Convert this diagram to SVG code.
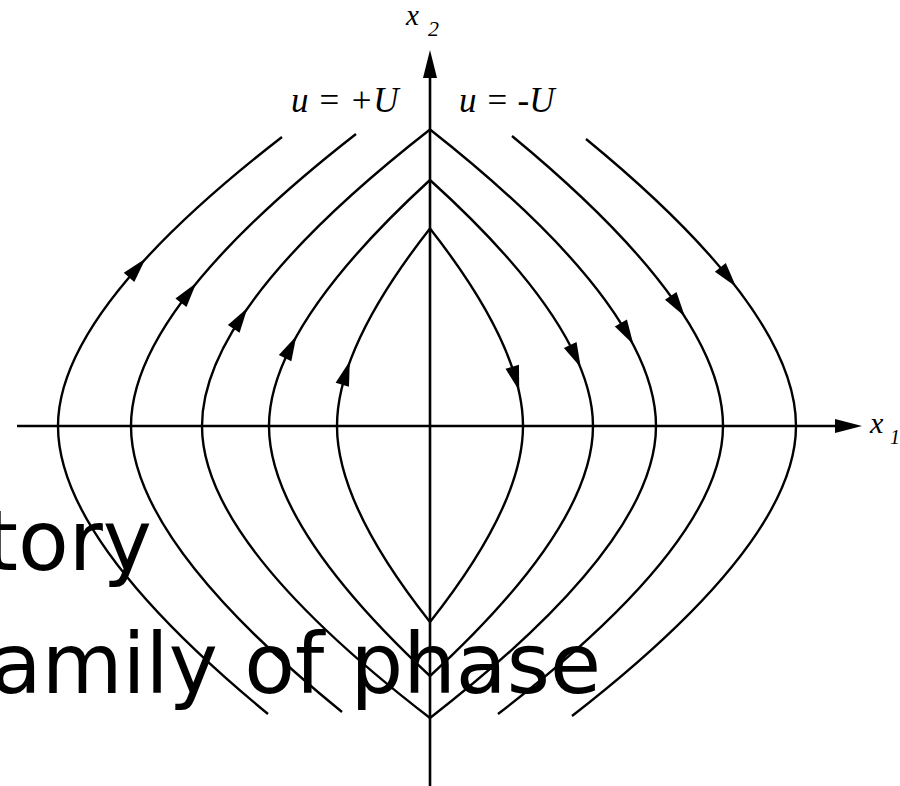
<svg xmlns="http://www.w3.org/2000/svg" xmlns:xlink="http://www.w3.org/1999/xlink" width="900" height="786" viewBox="0 0 900 786">
<style>
.axis{stroke:#000;stroke-width:2.6;fill:none}
.traj{stroke:#000;stroke-width:2.4;fill:none;stroke-linejoin:miter}
.lab{font-family:"Liberation Serif","Times New Roman",serif;font-style:italic;fill:#000}
.big{font-family:"DejaVu Sans",Verdana,sans-serif;font-size:83px;fill:#000}
</style>
<defs>
<polygon id="ah" points="13,0 -12,-7 -12,7" fill="#000"/>
</defs>
<rect width="900" height="786" fill="#fff"/>
<g id="axes">
<line class="axis" x1="17" y1="426" x2="840" y2="426"/>
<polygon points="862,426 835,419 835,433" fill="#000"/>
<line class="axis" x1="430" y1="786" x2="430" y2="74"/>
<polygon points="430,50 423,78 437,78" fill="#000"/>
</g>
<g id="trajectories">
<path class="traj" d="M282,137 Q58,310.4 58,426 Q58,541.2 268,714"/>
<path class="traj" d="M356,134 Q131,309.2 131,426 Q131,540.4 342,712"/>
<path class="traj" d="M430,129.5 Q202,307.4 202,426 Q202,542.8 430,718"/>
<path class="traj" d="M430,180 Q269,327.6 269,426 Q269,526 430,676"/>
<path class="traj" d="M430,228.5 Q337,347 337,426 Q337,504.4 430,622"/>
<path class="traj" d="M430,228.5 Q523,347 523,426 Q523,504.4 430,622"/>
<path class="traj" d="M430,180 Q593,327.6 593,426 Q593,526 430,676"/>
<path class="traj" d="M430,129.5 Q656,307.4 656,426 Q656,542.8 430,718"/>
<path class="traj" d="M512,136 Q723,310 723,426 Q723,541.2 498,714"/>
<path class="traj" d="M586,139 Q796,311.2 796,426 Q796,542 572,716"/>
</g>
<g id="arrows">
<use xlink:href="#ah" href="#ah" transform="translate(137,268.3) rotate(-48.4)"/>
<use xlink:href="#ah" href="#ah" transform="translate(188.3,293.2) rotate(-52.2)"/>
<use xlink:href="#ah" href="#ah" transform="translate(240.3,318.8) rotate(-56.8)"/>
<use xlink:href="#ah" href="#ah" transform="translate(290.5,347.5) rotate(-63.2)"/>
<use xlink:href="#ah" href="#ah" transform="translate(345.9,373.3) rotate(-72.5)"/>
<use xlink:href="#ah" href="#ah" transform="translate(515.6,378.3) rotate(73.8)"/>
<use xlink:href="#ah" href="#ah" transform="translate(575.3,355.8) rotate(64.9)"/>
<use xlink:href="#ah" href="#ah" transform="translate(626.9,333.3) rotate(59.9)"/>
<use xlink:href="#ah" href="#ah" transform="translate(677.5,305.8) rotate(55.6)"/>
<use xlink:href="#ah" href="#ah" transform="translate(727.9,276.7) rotate(51)"/>
</g>
<g id="labels">
<text class="lab" x="406" y="25" font-size="29">x</text>
<text class="lab" x="428" y="36" font-size="22">2</text>
<text class="lab" x="870" y="433" font-size="30">x</text>
<text class="lab" x="890" y="444" font-size="20">1</text>
<text class="lab" x="291" y="112" font-size="35">u = +U</text>
<text class="lab" x="459" y="112" font-size="35">u = -U</text>
</g>
<g id="overlay-text">
<text class="big" x="152" y="570" text-anchor="end">tory</text>
<text class="big" x="601" y="693" text-anchor="end">amily of phase</text>
</g>
</svg>
